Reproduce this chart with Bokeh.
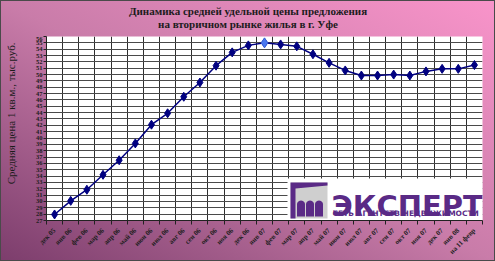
import math
from bokeh.plotting import figure
from bokeh.layouts import column, row
from bokeh.models import (FixedTicker, Label, BoxAnnotation, PolyAnnotation,
                          ColumnDataSource)
from bokeh.embed import file_html
from bokeh.resources import INLINE

# ---------------- data ----------------
months = ["дек 05", "янв 06", "фев 06", "мар 06", "апр 06", "май 06", "июн 06",
          "июл 06", "авг 06", "сен 06", "окт 06", "ноя 06", "дек 06", "янв 07",
          "фев 07", "мар 07", "апр 07", "май 07", "июн 07", "июл 07", "авг 07",
          "сен 07", "окт 07", "ноя 07", "дек 07", "янв 08", "на 11 февр"]
price = [27.95, 30.1, 31.85, 34.2, 36.5, 39.15, 42.1, 43.9, 46.5, 48.75, 51.4,
         53.5, 54.6, 55.0, 54.75, 54.45, 53.2, 51.85, 50.65, 49.85, 49.85, 50.0,
         49.85, 50.5, 50.9, 50.9, 51.5]
highlight = "янв 07"
y_ticks = list(range(27, 57))
title_lines = ["Динамика средней удельной цены предложения",
               "на вторичном рынке жилья в г. Уфе"]
y_title = "Средняя цена 1 кв.м., тыс.руб."
logo_main = "ЭКСПЕРТ"
logo_sub = "СЕТЬ АГЕНТСТВ НЕДВИЖИМОСТИ"

# ---------------- layout ----------------
W, H = 495, 261
TH = 36                      # height of the title strip
LW = 22                      # width of the y-title strip
FL, FR, FB = 46, 482, 222    # frame edges in page px (frame top = TH)


def strip(w, h):
    f = figure(width=w, height=h, x_range=(0, w), y_range=(0, h),
               output_backend="svg", toolbar_location=None, min_border=0,
               x_axis_type=None, y_axis_type=None, title=None)
    f.grid.visible = False
    f.outline_line_color = None
    f.background_fill_alpha = 0
    f.border_fill_alpha = 0
    return f


# ---- title strip ----
t = strip(W, TH)
title_y = [10.5, 23.5]
for line, ty in zip(title_lines, title_y):
    t.add_layout(Label(x=W / 2, y=TH - ty, text=line, text_align="center",
                       text_baseline="middle", text_font="Liberation Serif",
                       text_font_style="bold", text_font_size="11px",
                       text_color="#1c1c1c"))

# ---- y-title strip ----
ls = strip(LW, H - TH)
ls.add_layout(Label(x=10.5, y=H - 130, text=y_title, angle=math.pi / 2,
                    text_align="center", text_baseline="middle",
                    text_font="Liberation Serif", text_font_size="11px",
                    text_color="#1c1c1c"))

# ---- main chart ----
xs = list(range(len(months)))
src = ColumnDataSource(dict(x=xs, y=price))

p = figure(width=W - LW, height=H - TH, x_range=(-0.5, len(months) - 0.5),
           y_range=(y_ticks[0], y_ticks[-1]), output_backend="svg",
           toolbar_location=None, min_border_left=FL - LW, min_border_right=W - FR,
           min_border_top=0, min_border_bottom=H - FB, title=None)

p.background_fill_color = "white"
p.border_fill_alpha = 0
p.outline_line_color = None

bounds = [i - 0.5 for i in range(len(months) + 1)]
p.xgrid.ticker = FixedTicker(ticks=bounds)
p.ygrid.ticker = FixedTicker(ticks=y_ticks)
p.xgrid.grid_line_color = "#2e2e2e"
p.ygrid.grid_line_color = "#4a4a4a"
p.xgrid.grid_line_width = 1
p.ygrid.grid_line_width = 1

xa = p.xaxis[0]
xa.ticker = FixedTicker(ticks=xs, minor_ticks=bounds)
xa.major_label_overrides = {i: m for i, m in zip(xs, months)}
xa.major_tick_line_color = None
xa.minor_tick_line_color = "#222222"
xa.minor_tick_in = 0
xa.minor_tick_out = 4
xa.major_label_orientation = math.pi / 4
xa.major_label_text_font = "Liberation Serif"
xa.major_label_text_font_style = "bold"
xa.major_label_text_font_size = "7px"
xa.major_label_text_color = "#1e1e1e"
xa.major_label_standoff = 3
xa.axis_line_color = "#222222"

ya = p.yaxis[0]
ya.ticker = FixedTicker(ticks=y_ticks)
ya.major_tick_in = 0
ya.major_tick_out = 3
ya.minor_tick_line_color = None
ya.major_tick_line_color = "#222222"
ya.major_label_text_font = "Liberation Serif"
ya.major_label_text_font_style = "bold"
ya.major_label_text_font_size = "6.5px"
ya.major_label_text_color = "#1e1e1e"
ya.major_label_standoff = 1
ya.axis_line_color = "#222222"

# ---------------- series ----------------
p.line(x="x", y="y", source=src, line_color="#000080", line_width=1.5)
p.scatter(x="x", y="y", source=src, marker="diamond", size=9,
          fill_color="#000080", line_color="#000080")
hi = months.index(highlight)
p.scatter(x=[xs[hi]], y=[price[hi]], marker="diamond", size=10,
          fill_color="#4a78ee", line_color="#3a62d8")


# helpers: page px -> frame-relative screen units
def sx(cx):
    return cx - FL


def sy(cy):
    return FB - cy


# ---------------- logo ----------------
purple = "#5a2a86"
p.add_layout(BoxAnnotation(left=sx(287), right=sx(482), top=sy(180), bottom=sy(221.5),
                           left_units="screen", right_units="screen",
                           top_units="screen", bottom_units="screen",
                           fill_color="white", fill_alpha=1, line_color=None,
                           level="overlay"))
p.add_layout(BoxAnnotation(left=sx(290), right=sx(327), top=sy(184), bottom=sy(220),
                           left_units="screen", right_units="screen",
                           top_units="screen", bottom_units="screen",
                           fill_color="#cfcfcf", fill_alpha=1, line_color=None,
                           level="overlay"))
roof = [(290, 184), (327, 184), (327, 187), (295, 190), (295, 220), (290, 220)]
p.add_layout(PolyAnnotation(xs=[sx(a) for a, b in roof], ys=[sy(b) for a, b in roof],
                            xs_units="screen", ys_units="screen",
                            fill_color=purple, fill_alpha=1, line_color=None,
                            level="overlay"))
for left in (296.5, 305.5, 314.5):
    w = 8.0
    r = w / 2
    pts = [(left, 218), (left, 206)]
    for k in range(13):
        a = math.pi - math.pi * k / 12
        pts.append((left + r + r * math.cos(a), 206 - r * math.sin(a)))
    pts.append((left + w, 218))
    p.add_layout(PolyAnnotation(xs=[sx(a) for a, b in pts], ys=[sy(b) for a, b in pts],
                                xs_units="screen", ys_units="screen",
                                fill_color=purple, fill_alpha=1, line_color=None,
                                level="overlay"))

p.add_layout(Label(x=sx(331), y=sy(207), x_units="screen", y_units="screen",
                   text=logo_main, text_align="left", text_baseline="alphabetic",
                   text_font="DejaVu Sans", text_font_style="bold",
                   text_font_size="29px", text_color=purple, level="overlay"))
p.add_layout(Label(x=sx(332), y=sy(214.5), x_units="screen", y_units="screen",
                   text=logo_sub, text_align="left", text_baseline="middle",
                   text_font="DejaVu Sans", text_font_style="bold",
                   text_font_size="7.5px", text_color=purple, level="overlay"))

page = column(t, row(ls, p, spacing=0), spacing=0)
page.styles = {"background": "linear-gradient(to top right, #7c3d6c 0%, #c97ca9 50%, #f994ca 100%)",
               "box-shadow": "inset 0 0 0 1px #4a4a4a"}

open("out.html", "w").write(file_html(page, INLINE))
